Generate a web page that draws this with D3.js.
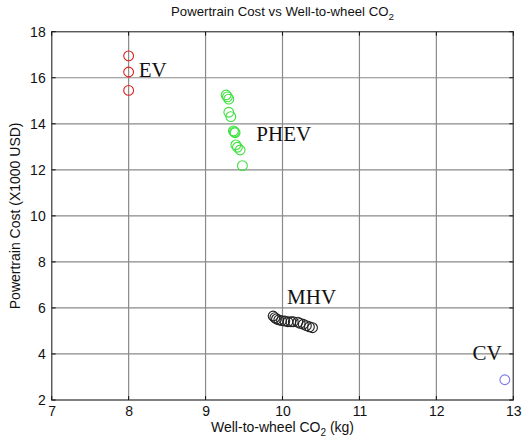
<!DOCTYPE html>
<html>
<head>
<meta charset="utf-8">
<script src="https://cdn.jsdelivr.net/npm/d3@7"></script>
<style>
  html, body { margin: 0; padding: 0; background: #fff; }
  svg { display: block; }
</style>
</head>
<body>
<svg id="chart" width="526" height="443"></svg>
<script>
// Powertrain cost vs well-to-wheel CO2 for each powertrain family
const evCO2   = [8.0, 8.0, 8.0];
const evCost  = [16.95, 16.25, 15.45];

const phevCO2  = [9.267, 9.284, 9.302, 9.302, 9.328, 9.362, 9.375, 9.384, 9.393, 9.414, 9.449, 9.479];
const phevCost = [15.25, 15.17, 15.07, 14.50, 14.31, 13.69, 13.65, 13.61, 13.08, 12.98, 12.86, 12.18];

const mhvCO2  = [9.878, 9.900, 9.922, 9.952, 9.987, 10.03, 10.07, 10.11, 10.14, 10.20, 10.23, 10.27, 10.31, 10.35, 10.39];
const mhvCost = [5.65, 5.58, 5.52, 5.48, 5.45, 5.43, 5.40, 5.40, 5.40, 5.38, 5.33, 5.29, 5.23, 5.18, 5.14];

const cvCO2  = [12.89];
const cvCost = [2.88];

const xTicks = [7, 8, 9, 10, 11, 12, 13];
const yTicks = [2, 4, 6, 8, 10, 12, 14, 16, 18];

const seriesNames  = ["EV", "PHEV", "MHV", "CV"];
const seriesColors = ["#e02020", "#3ee03e", "#222222", "#7a7ae8"];
const seriesLabelAt = [[8.13, 16.02], [9.66, 13.23], [10.06, 6.15], [12.47, 3.72]];

const series = [
  { x: evCO2, y: evCost },
  { x: phevCO2, y: phevCost },
  { x: mhvCO2, y: mhvCost },
  { x: cvCO2, y: cvCost }
];

const svg = d3.select("#chart");
const plotL = 51.7, plotR = 513.3, plotT = 31.7, plotB = 400;

const x = d3.scaleLinear().domain([7, 13]).range([plotL, plotR]);
const y = d3.scaleLinear().domain([2, 18]).range([plotB, plotT]);

const sans = "Liberation Sans, Arial, sans-serif";
const serif = "Liberation Serif, Times New Roman, serif";

// grid lines
const grid = svg.append("g").attr("stroke", "#8a8a8a").attr("stroke-width", 1.2);
xTicks.forEach(t => grid.append("line")
  .attr("x1", x(t)).attr("x2", x(t)).attr("y1", plotT).attr("y2", plotB));
yTicks.forEach(t => grid.append("line")
  .attr("x1", plotL).attr("x2", plotR).attr("y1", y(t)).attr("y2", y(t)));

// frame
svg.append("rect")
  .attr("x", plotL).attr("y", plotT)
  .attr("width", plotR - plotL).attr("height", plotB - plotT)
  .attr("fill", "none").attr("stroke", "#555").attr("stroke-width", 1.2);

// inward ticks on all four sides
const tk = svg.append("g").attr("stroke", "#111").attr("stroke-width", 1);
xTicks.forEach(t => {
  tk.append("line").attr("x1", x(t)).attr("x2", x(t)).attr("y1", plotB).attr("y2", plotB - 4);
  tk.append("line").attr("x1", x(t)).attr("x2", x(t)).attr("y1", plotT).attr("y2", plotT + 4);
});
yTicks.forEach(t => {
  tk.append("line").attr("x1", plotL).attr("x2", plotL + 4).attr("y1", y(t)).attr("y2", y(t));
  tk.append("line").attr("x1", plotR).attr("x2", plotR - 4).attr("y1", y(t)).attr("y2", y(t));
});

// tick labels via axes (domain and tick lines hidden)
const xAxis = svg.append("g")
  .attr("transform", `translate(0,${plotB})`)
  .call(d3.axisBottom(x).tickValues(xTicks).tickSize(0).tickPadding(6).tickFormat(d3.format("d")));
const yAxis = svg.append("g")
  .attr("transform", `translate(${plotL},0)`)
  .call(d3.axisLeft(y).tickValues(yTicks).tickSize(0).tickPadding(6).tickFormat(d3.format("d")));
[xAxis, yAxis].forEach(a => {
  a.select(".domain").remove();
  a.selectAll("text").attr("font-family", sans).attr("font-size", 14).attr("fill", "#111");
});

// markers
series.forEach((s, i) => {
  svg.append("g")
    .selectAll("circle")
    .data(s.x.map((v, j) => [v, s.y[j]]))
    .join("circle")
    .attr("cx", d => x(d[0]))
    .attr("cy", d => y(d[1]))
    .attr("r", 4.9)
    .attr("fill", "none")
    .attr("stroke", seriesColors[i])
    .attr("stroke-width", 1.1);
});

// series labels
seriesNames.forEach((n, i) => {
  svg.append("text")
    .attr("x", x(seriesLabelAt[i][0]))
    .attr("y", y(seriesLabelAt[i][1]))
    .attr("font-family", serif)
    .attr("font-size", 21)
    .attr("fill", "#111")
    .text(n);
});

// title
const title = svg.append("text")
  .attr("x", (plotL + plotR) / 2).attr("y", 16)
  .attr("text-anchor", "middle")
  .attr("font-family", sans).attr("font-size", 13.2).attr("fill", "#111");
title.append("tspan").text("Powertrain Cost vs Well-to-wheel CO");
title.append("tspan").attr("dy", 4).attr("font-size", 9.8).text("2");

// x label
const xl = svg.append("text")
  .attr("x", (plotL + plotR) / 2).attr("y", 432)
  .attr("text-anchor", "middle")
  .attr("font-family", sans).attr("font-size", 14).attr("fill", "#111");
xl.append("tspan").text("Well-to-wheel CO");
xl.append("tspan").attr("dy", 4).attr("font-size", 10).text("2");
xl.append("tspan").attr("dy", -4).text(" (kg)");

// y label
svg.append("text")
  .attr("transform", `translate(20,${(plotT + plotB) / 2}) rotate(-90)`)
  .attr("text-anchor", "middle")
  .attr("font-family", sans).attr("font-size", 14).attr("fill", "#111")
  .text("Powertrain Cost (X1000 USD)");
</script>
</body>
</html>
